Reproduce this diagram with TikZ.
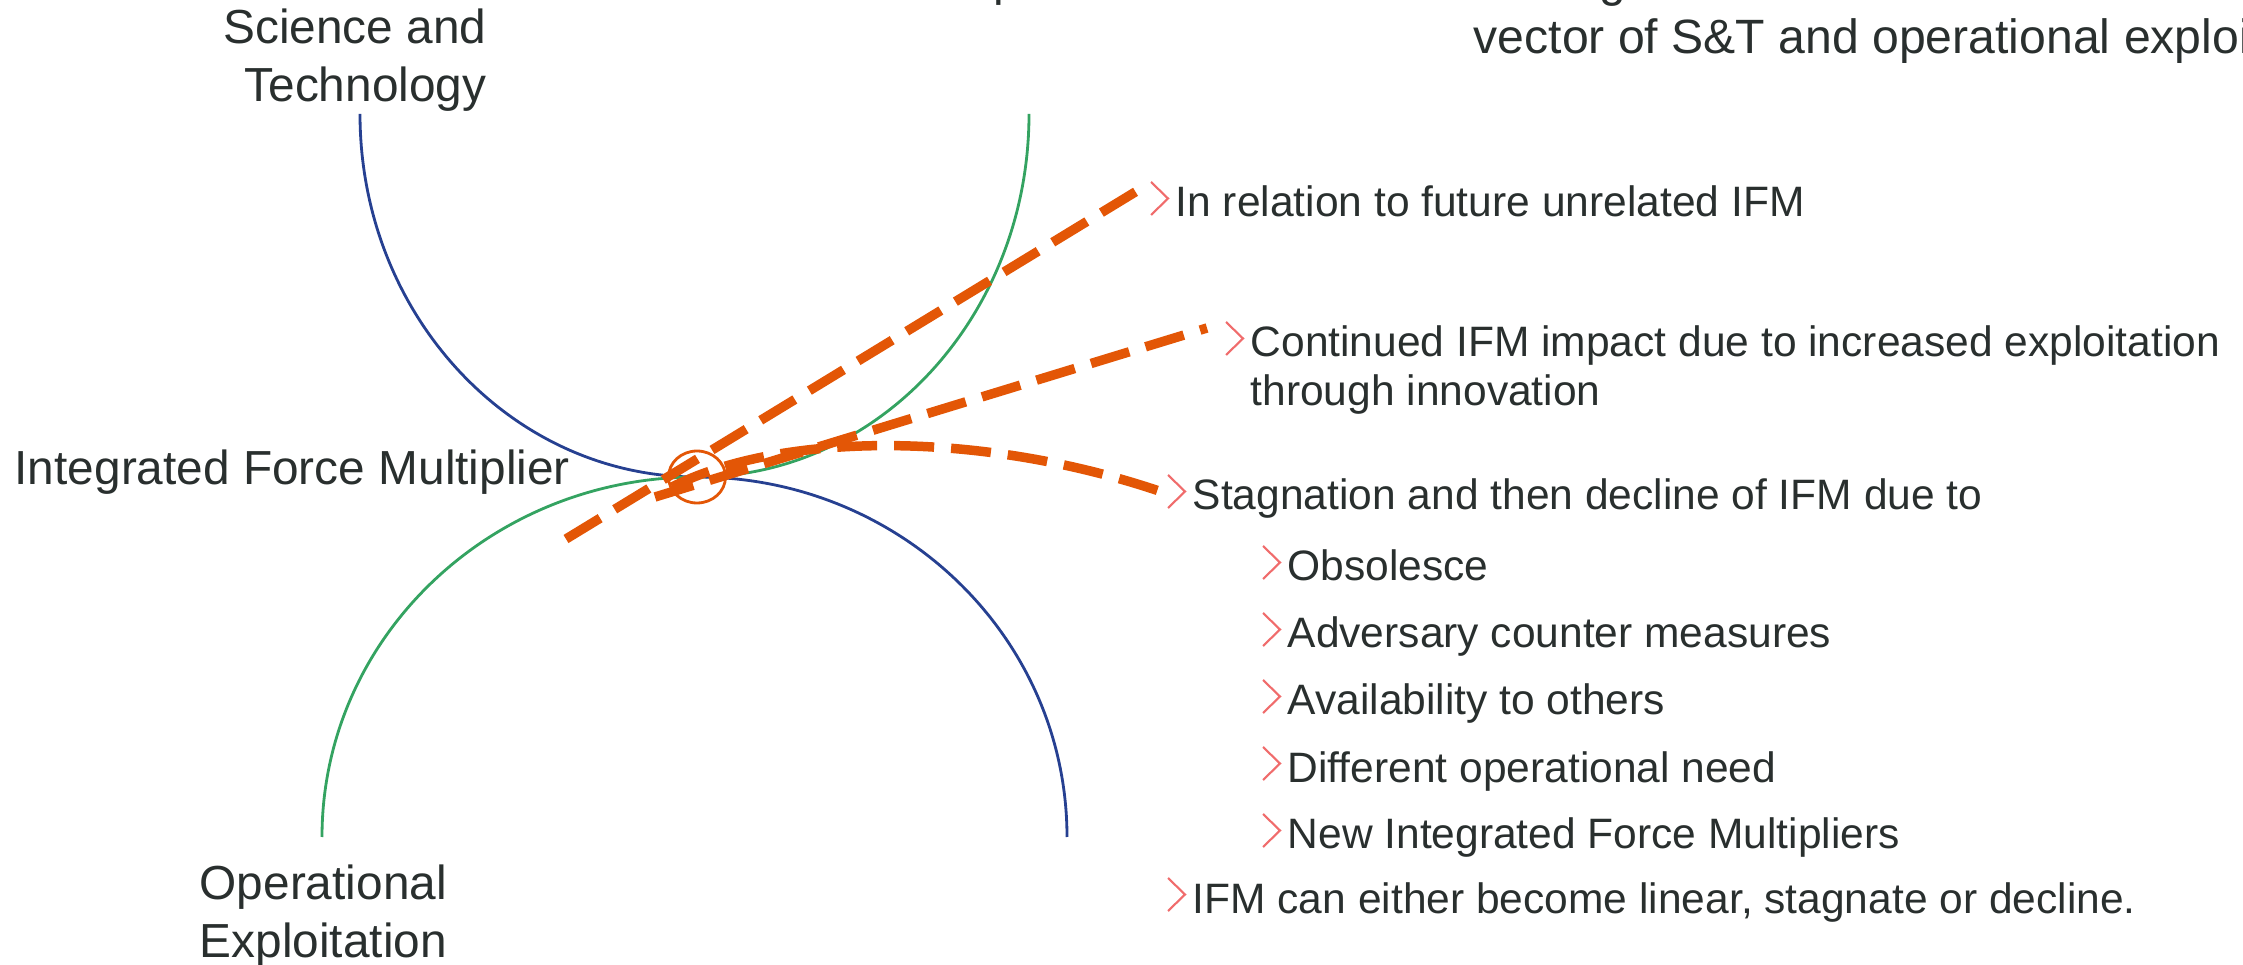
\documentclass[tikz,border=0pt]{standalone}
\usepackage{fontspec}
\setmainfont{Liberation Sans}
\usetikzlibrary{calc}

\definecolor{ifmorange}{RGB}{227,86,6}
\definecolor{stblue}{RGB}{38,64,145}
\definecolor{oegreen}{RGB}{52,163,97}
\definecolor{chevred}{RGB}{240,108,108}
\definecolor{textgray}{RGB}{41,47,46}

% small bullet chevron in front of a text node
\newcommand{\chev}[1]{%
    \draw[chevron] ($(#1.base west)+(-0.24,0.35)$) -- ($(#1.base west)+(-0.07,0.185)$) -- ($(#1.base west)+(-0.24,0.02)$);}

\begin{document}
\begin{tikzpicture}[
        big/.style = {inner sep = 0, text = textgray, font = \fontsize{13.6}{16.6}\selectfont},
        item/.style = {inner sep = 0, anchor = base west, text = textgray, font = \fontsize{12.1}{13.9}\selectfont},
        chevron/.style = {chevred, line width = 0.6pt},
        ifmline/.style = {ifmorange, line width = 2.7pt, dash pattern = on 0.40cm off 0.17cm},
        curve/.style = {line width = 0.8pt}
    ]
        \useasboundingbox (0, 0) rectangle (22.43, 9.64);
        \clip (0, 0) rectangle (22.43, 9.64);
        \coordinate (T) at (6.97, 4.87);

        % Curves
        \draw[curve, stblue] (T) arc[start angle = 270, end angle = 180, x radius = 3.37, y radius = 3.63];
        \draw[curve, oegreen] (T) arc[start angle = 270, end angle = 360, x radius = 3.32, y radius = 3.63];
        \draw[curve, oegreen] (T) arc[start angle = 90, end angle = 180, x radius = 3.75, y radius = 3.60];
        \draw[curve, stblue] (T) arc[start angle = 90, end angle = 0, x radius = 3.70, y radius = 3.60];
        \draw[ifmorange, line width = 0.8pt] (T) ellipse [x radius = 0.285, y radius = 0.26];

        % Labels
        \node[big, anchor = north east, align = right] (st) at (4.87, 9.56) {Science and\\Technology};
        \node[big, anchor = north west, align = left] (oe) at (1.99, 1.00) {Operational\\Exploitation};
        \node[big, anchor = base west] (ifm) at (0.14, 4.79) {Integrated Force Multiplier};
        \node[big, anchor = base west, font = \fontsize{13.7}{16.6}\selectfont] (vec) at (14.73, 9.10) {vector of S\&T and operational exploitation};
        \node[big, anchor = base west] (cutp) at (9.93, 9.68) {p};
        \node[big, anchor = base west] (cutg) at (15.99, 9.67) {g};

        % Outcomes
        \node[item] (rel) at (11.75, 7.47) {In relation to future unrelated IFM};
        \node[item] (cont) at (12.50, 6.07) {Continued IFM impact due to increased exploitation};
        \node[item] (cont2) at ($(cont.base west)+(0, -0.49)$) {through innovation};
        \node[item] (stag) at (11.92, 4.54) {Stagnation and then decline of IFM due to};
        \foreach \txt [count = \i] in {Obsolesce, Adversary counter measures, Availability to others, Different operational need, New Integrated Force Multipliers} {
            \node[item] (sub\i) at (12.87, {4.50 - 0.67*\i}) {\txt};
            \chev{sub\i}
        }
        \node[item] (either) at (11.92, 0.51) {IFM can either become linear, stagnate or decline.};
        \foreach \n in {rel, cont, stag, either} \chev{\n};

        % Dashed paths
        \coordinate (relStart) at (5.66, 4.25);
        \coordinate (relEnd) at (11.50, 7.81);
        \coordinate (contStart) at (6.55, 4.67);
        \coordinate (contEnd) at (12.07, 6.36);
        \coordinate (stagStart) at (6.72, 4.77);
        \coordinate (stagEnd) at (11.62, 4.72);
        \draw[ifmline] (relStart) -- (relEnd);
        \draw[ifmline] (contStart) -- (contEnd);
        \draw[ifmline] (stagStart) .. controls (7.80, 5.32) and (9.80, 5.34) .. (stagEnd);
    \end{tikzpicture}
\end{document}
